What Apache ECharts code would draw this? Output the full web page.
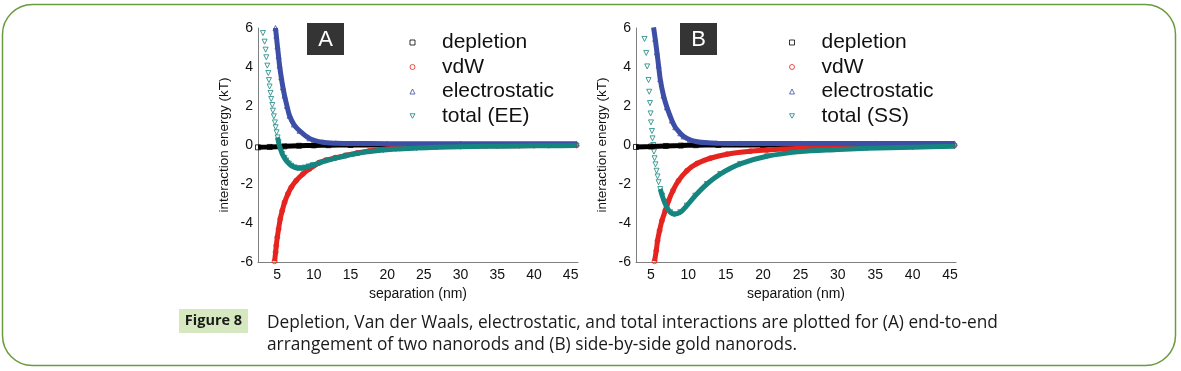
<!DOCTYPE html>
<html><head><meta charset="utf-8">
<script src="https://cdn.jsdelivr.net/npm/echarts@6/dist/echarts.min.js"></script>
<style>html,body{margin:0;padding:0;background:#fff}#c{width:1181px;height:371px}</style>
</head><body><div id="c"></div>
<script>
// ---- data ----
const xTickValues = [5, 10, 15, 20, 25, 30, 35, 40, 45];
const seriesNames = ['depletion', 'vdW', 'electrostatic'];
const totalNameA = 'total (EE)';
const totalNameB = 'total (SS)';

// Panel A: end-to-end
const eeDepletion = [[2.4,-0.12],[4,-0.1],[6,-0.07],[8,-0.04],[10,-0.02],[12,-0.01],[15,0],[20,0],[30,0],[45.5,0]];
const eeVdw = [[4.66,-5.96],[4.8,-5.5],[4.89,-5.16],[5.03,-4.73],[5.2,-4.31],[5.43,-3.79],[5.7,-3.37],[6.02,-2.94],[6.47,-2.51],[6.93,-2.17],[7.6,-1.83],[8.5,-1.49],[9.4,-1.23],[10.8,-0.9],[11.7,-0.78],[13,-0.65],[14.4,-0.53],[16,-0.41],[17.6,-0.31],[19.5,-0.22],[21.2,-0.16],[24,-0.12],[26.7,-0.09],[30,-0.06],[35,-0.04],[40,-0.03],[45.8,-0.02]];
const eeElectrostatic = [[4.78,6.0],[4.9,5.6],[5.05,5.05],[5.2,4.55],[5.34,4.07],[5.57,3.47],[5.8,2.95],[6.02,2.53],[6.35,2.0],[6.7,1.5],[7.3,1.05],[8.06,0.73],[9.4,0.34],[11.2,0.14],[13,0.09],[15.3,0.08],[20,0.07],[30,0.07],[45.8,0.07]];
const eeTotal = [[3.07,5.74],[3.3,5.3],[3.44,4.89],[3.53,4.5],[3.67,4.07],[3.8,3.69],[3.89,3.33],[3.98,3.0],[4.1,2.67],[4.2,2.36],[4.35,2.05],[4.43,1.76],[4.56,1.47],[4.7,1.16],[4.8,0.91],[4.93,0.65],[5.07,0.39],[5.2,0.14],[5.38,-0.12],[5.55,-0.3],[5.7,-0.46],[6.0,-0.66],[6.25,-0.8],[6.6,-0.95],[6.93,-1.06],[7.4,-1.15],[7.83,-1.19],[8.3,-1.19],[8.74,-1.16],[9.3,-1.1],[9.87,-1.03],[10.8,-0.92],[11.7,-0.8],[13,-0.67],[14.4,-0.55],[16,-0.43],[17.6,-0.34],[19.5,-0.26],[21.2,-0.21],[24,-0.16],[26.7,-0.12],[30,-0.09],[33.5,-0.07],[38,-0.05],[42,-0.04],[45.8,-0.03]];

// Panel B: side-by-side
const ssDepletion = [[3,-0.1],[5,-0.08],[7,-0.05],[9,-0.03],[11,-0.01],[14,0],[20,0],[30,0],[45.3,0]];
const ssVdw = [[5.48,-5.96],[5.71,-5.42],[5.88,-4.91],[6.15,-4.39],[6.47,-3.88],[6.91,-3.37],[7.35,-2.86],[7.94,-2.34],[8.69,-1.83],[9.81,-1.32],[11.15,-0.95],[12.93,-0.68],[15.16,-0.47],[18.3,-0.32],[20.5,-0.26],[22.7,-0.21],[25,-0.17],[27.2,-0.14],[30,-0.1],[33.9,-0.07],[40,-0.04],[45.6,-0.02]];
const ssElectrostatic = [[5.35,6.03],[5.57,5.44],[5.8,4.75],[6.02,4.07],[6.24,3.38],[6.68,2.53],[7.14,1.93],[7.81,1.25],[8.25,0.91],[8.92,0.6],[9.36,0.44],[10.2,0.27],[11.15,0.17],[12.5,0.11],[13.8,0.09],[17,0.08],[25,0.08],[35,0.08],[45.6,0.08]];
const ssTotal = [[4.14,5.44],[4.37,4.72],[4.5,4.03],[4.68,3.33],[4.77,2.73],[4.87,2.15],[4.95,1.62],[5.0,1.16],[5.13,0.72],[5.21,0.34],[5.31,0],[5.4,-0.34],[5.48,-0.68],[5.61,-0.99],[5.75,-1.32],[5.88,-1.61],[6.02,-1.91],[6.24,-2.26],[6.51,-2.6],[6.82,-2.94],[7.14,-3.2],[7.58,-3.45],[8.12,-3.55],[8.92,-3.45],[9.8,-3.11],[10.92,-2.6],[12.49,-2.0],[14.26,-1.49],[16.94,-0.97],[20.5,-0.58],[24.96,-0.34],[29.4,-0.24],[33.9,-0.17],[40,-0.11],[45.6,-0.07]];

// ---- styling ----
const COL = { dep:'#000000', vdw:'#e5241f', ele:'#3d4ea6', tot:'#14857f' };
const FONT = 'Liberation Sans, Arial, sans-serif';
const MARK = { dep:'rect', vdw:'circle', ele:'triangle', tot:'path://M0,0 L10,0 L5,9 Z' };

function curve(g, name, pts, color, symbol, lineFrom) {
  return [
    { type:'line', xAxisIndex:g, yAxisIndex:g, data: pts.filter(p => p[0] >= lineFrom),
      showSymbol:false, smooth:0.3, silent:true, animation:false,
      lineStyle:{ width:5, color:color } },
    { type:'scatter', name:name, xAxisIndex:g, yAxisIndex:g, data: pts, symbol:symbol,
      symbolSize:5, silent:true, animation:false,
      itemStyle:{ color:'rgba(255,255,255,0)', borderColor:color, borderWidth:1 } }
  ];
}

const grids = [
  { left:258, top:28, width:320, height:234 },
  { left:636, top:28, width:320, height:234 }
];
function xAxis(g, max) {
  return { gridIndex:g, type:'value', min: g===0 ? 2.4 : 3, max:max,
    axisLine:{ show:true, onZero:false, lineStyle:{ color:'#7f7f7f', width:1 } },
    axisTick:{ show:false }, splitLine:{ show:false },
    axisLabel:{ customValues:xTickValues, fontSize:14, color:'#111', margin:6, fontFamily:FONT },
    name:'separation (nm)', nameLocation:'middle', nameGap:11,
    nameTextStyle:{ fontSize:14, color:'#111', fontFamily:FONT } };
}
function yAxis(g) {
  return { gridIndex:g, type:'value', min:-6, max:6, interval:2,
    axisLine:{ show:true, lineStyle:{ color:'#7f7f7f', width:1 } },
    axisTick:{ show:false }, splitLine:{ show:false },
    axisLabel:{ fontSize:14, color:'#111', margin:5, fontFamily:FONT },
    name:'interaction energy (kT)', nameLocation:'middle', nameGap:27, nameRotate:90,
    nameTextStyle:{ fontSize:13.5, color:'#111', fontFamily:FONT } };
}
function legendItem(name, color, symbol) {
  return { name:name, icon:symbol,
    itemStyle:{ color:'#fff', borderColor:color, borderWidth:1 } };
}
function legend(left, totalName) {
  return { left:left, top:32, orient:'vertical', padding:0, itemWidth:5, itemHeight:5,
    itemGap:3.5, selectedMode:false,
    data:[ legendItem(seriesNames[0], COL.dep, MARK.dep),
           legendItem(seriesNames[1], COL.vdw, MARK.vdw),
           legendItem(seriesNames[2], COL.ele, MARK.ele),
           legendItem(totalName, COL.tot, MARK.tot) ],
    textStyle:{ fontSize:21, color:'#111', fontFamily:FONT, lineHeight:21, padding:[0,0,0,22] } };
}

const series = [].concat(
  curve(0, seriesNames[0], eeDepletion, COL.dep, MARK.dep, 0),
  curve(0, seriesNames[1], eeVdw, COL.vdw, MARK.vdw, 0),
  curve(0, seriesNames[2], eeElectrostatic, COL.ele, MARK.ele, 0),
  curve(0, totalNameA, eeTotal, COL.tot, MARK.tot, 5.05),
  curve(1, seriesNames[0], ssDepletion, COL.dep, MARK.dep, 0),
  curve(1, seriesNames[1], ssVdw, COL.vdw, MARK.vdw, 0),
  curve(1, seriesNames[2], ssElectrostatic, COL.ele, MARK.ele, 0),
  curve(1, totalNameB, ssTotal, COL.tot, MARK.tot, 6.2)
);

const chart = echarts.init(document.getElementById('c'), null, { renderer:'canvas' });
chart.setOption({
  animation:false,
  grid: grids,
  xAxis: [xAxis(0, 46), xAxis(1, 45.8)],
  yAxis: [yAxis(0), yAxis(1)],
  legend: [ legend(409.5, totalNameA), legend(789, totalNameB) ],
  series: series,
  graphic: [
    { type:'rect', shape:{ x:2.5, y:4.5, width:1173, height:361, r:30 }, silent:true,
      style:{ fill:'none', stroke:'#6b9b3f', lineWidth:1.5 } },
    { type:'rect', shape:{ x:307, y:23, width:37, height:32 }, style:{ fill:'#343434' } },
    { type:'text', x:325.5, y:39.5, style:{ text:'A', fill:'#fff', font:'22px Liberation Sans, Arial, sans-serif', align:'center', verticalAlign:'middle' } },
    { type:'rect', shape:{ x:680, y:23, width:37, height:32 }, style:{ fill:'#343434' } },
    { type:'text', x:698.5, y:39.5, style:{ text:'B', fill:'#fff', font:'22px Liberation Sans, Arial, sans-serif', align:'center', verticalAlign:'middle' } },
    { type:'rect', shape:{ x:179, y:309, width:69, height:24 }, style:{ fill:'#d6e8c0' } },
    { type:'text', x:213.5, y:321, style:{ text:'Figure 8', fill:'#1a1a1a', font:'bold 14.5px "Open Sans", sans-serif', align:'center', verticalAlign:'middle' } },
    { type:'text', x:267, y:323, style:{ text:'Depletion, Van der Waals, electrostatic, and total interactions are plotted for (A) end-to-end', fill:'#1a1a1a', font:'17.3px "Open Sans", sans-serif', align:'left', verticalAlign:'middle' } },
    { type:'text', x:267, y:345, style:{ text:'arrangement of two nanorods and (B) side-by-side gold nanorods.', fill:'#1a1a1a', font:'17.3px "Open Sans", sans-serif', align:'left', verticalAlign:'middle' } }
  ]
});
</script>
</body></html>
